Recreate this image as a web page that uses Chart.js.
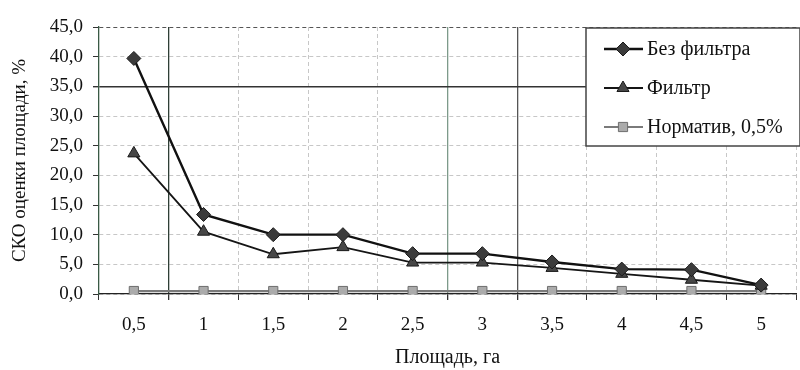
<!DOCTYPE html>
<html>
<head>
<meta charset="utf-8">
<script src="https://cdn.jsdelivr.net/npm/chart.js@4"></script>
<style>
  html, body { margin: 0; padding: 0; background: #fff; overflow: hidden; }
  #wrap { width: 800px; height: 370px; overflow: hidden; }
</style>
</head>
<body>
<div id="wrap"><canvas id="chart" width="804" height="370"></canvas></div>
<script>
// values
const areas = ["0,5", "1", "1,5", "2", "2,5", "3", "3,5", "4", "4,5", "5"];
const noFilter = [39.7, 13.4, 10.0, 10.0, 6.8, 6.8, 5.4, 4.2, 4.1, 1.5];
const withFilter = [23.7, 10.5, 6.7, 7.9, 5.3, 5.3, 4.4, 3.4, 2.4, 1.4];
const normative = [0.5, 0.5, 0.5, 0.5, 0.5, 0.5, 0.5, 0.5, 0.5, 0.5];
const seriesNames = ["Без фильтра", "Фильтр", "Норматив, 0,5%"];

const serif = "'Liberation Serif', 'Times New Roman', serif";
Chart.defaults.font.family = serif;
Chart.defaults.font.size = 19;
Chart.defaults.color = "#111";

// legend box drawn over the plot, like in the figure
const boxLegend = {
  id: "boxLegend",
  afterDraw(chart) {
    const ctx = chart.ctx;
    const x0 = 586, y0 = 28, w = 214, h = 118;
    ctx.save();
    ctx.fillStyle = "#fff";
    ctx.fillRect(x0, y0, w, h);
    ctx.strokeStyle = "#444";
    ctx.lineWidth = 1.5;
    ctx.strokeRect(x0, y0, w, h);
    ctx.font = "20px " + serif;
    ctx.textBaseline = "middle";
    chart.data.datasets.forEach((ds, i) => {
      const y = y0 + 21 + i * 39;
      ctx.strokeStyle = ds.borderColor;
      ctx.lineWidth = ds.borderWidth;
      ctx.beginPath();
      ctx.moveTo(604, y);
      ctx.lineTo(643, y);
      ctx.stroke();
      ctx.fillStyle = ds.pointBackgroundColor;
      ctx.strokeStyle = ds.pointBorderColor;
      ctx.lineWidth = 1;
      Chart.helpers.drawPoint(ctx, { pointStyle: ds.pointStyle, radius: ds.pointRadius, borderWidth: 1, rotation: 0 }, 623, y);
      ctx.fillStyle = "#111";
      ctx.fillText(ds.label, 647, y + 1);
    });
    ctx.restore();
  }
};

const darkCols = { 1: "#2f3f36", 5: "#7d9a8a", 6: "#555" };

new Chart(document.getElementById("chart"), {
  type: "line",
  data: {
    labels: areas,
    datasets: [
      {
        label: seriesNames[0],
        data: noFilter,
        borderColor: "#111",
        borderWidth: 2.4,
        pointStyle: "rectRot",
        pointRadius: 7,
        pointBackgroundColor: "#3b3b3b",
        pointBorderColor: "#1a1a1a",
        pointBorderWidth: 1,
        order: 1
      },
      {
        label: seriesNames[1],
        data: withFilter,
        borderColor: "#151515",
        borderWidth: 1.8,
        pointStyle: "triangle",
        pointRadius: 7,
        pointBackgroundColor: "#474747",
        pointBorderColor: "#1a1a1a",
        pointBorderWidth: 1,
        order: 2
      },
      {
        label: seriesNames[2],
        data: normative,
        borderColor: "#7a7a7a",
        borderWidth: 2.2,
        pointStyle: "rect",
        pointRadius: 6.5,
        pointBackgroundColor: "#ababab",
        pointBorderColor: "#6e6e6e",
        pointBorderWidth: 1,
        order: 3
      }
    ]
  },
  options: {
    responsive: false,
    animation: false,
    layout: { padding: { top: 27, right: 0, bottom: 0, left: 0 } },
    plugins: {
      legend: { display: false },
      tooltip: { enabled: false }
    },
    scales: {
      x: {
        offset: true,
        afterFit: (s) => { s.height = 76; },
        grid: {
          offset: true,
          color: (c) => darkCols[c.index] || "rgba(0,0,0,0.22)",
          lineWidth: (c) => (darkCols[c.index] ? 1.3 : 1),
          tickColor: "#333",
          tickLength: 6
        },
        border: {
          color: "#222",
          width: 1.3,
          dash: (c) => (darkCols[c.index] ? [] : [4, 3])
        },
        ticks: { padding: 14, color: "#111", font: { size: 19 } },
        title: {
          display: true,
          text: "Площадь, га",
          color: "#111",
          font: { size: 20 },
          padding: { top: 0, bottom: 0 }
        }
      },
      y: {
        min: 0,
        max: 45,
        afterFit: (s) => { s.width = 99; },
        grid: {
          color: (c) => {
            const v = c.tick && c.tick.value;
            if (v === 35) return "#333";
            if (v === 45) return "#555";
            return "rgba(0,0,0,0.22)";
          },
          lineWidth: (c) => (c.tick && c.tick.value === 35 ? 1.4 : 1),
          tickColor: "#333",
          tickLength: 6
        },
        border: {
          color: "#3a5a45",
          width: 1.3,
          dash: (c) => (c.tick && c.tick.value === 35 ? [] : [4, 3])
        },
        ticks: {
          stepSize: 5,
          padding: 10,
          color: "#111",
          font: { size: 19 },
          callback: (v) => v.toFixed(1).replace(".", ",")
        },
        title: {
          display: true,
          text: "СКО оценки площади, %",
          color: "#111",
          font: { size: 19 },
          padding: { top: 9, bottom: 0 }
        }
      }
    }
  },
  plugins: [boxLegend]
});
</script>
</body>
</html>
